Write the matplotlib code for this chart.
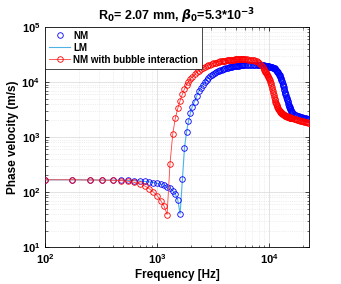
import numpy as np
import matplotlib
matplotlib.use("Agg")
import matplotlib.pyplot as plt

# frequency samples (Hz), same grid for all series
freq = [100, 175, 250, 325, 400, 475, 550, 625, 700, 775, 850, 925, 1000, 1075,
        1150, 1225, 1300, 1375, 1450, 1525, 1600, 1675, 1750, 1825, 1900, 1975, 2050,
        2150, 2250, 2350, 2450, 2550, 2650, 2750, 2850, 2950, 3050, 3150, 3250, 3350,
        3450, 3550, 3650, 3750, 3850, 3950, 4050, 4150, 4250, 4350, 4450, 4550, 4650,
        4750, 4850, 4950, 5050, 5150, 5250, 5350, 5450, 5550, 5650, 5750, 5850, 5950,
        6100, 6300, 6500, 6700, 6900, 7100, 7300, 7500, 7700, 7900, 8100, 8300, 8500,
        8700, 8900,
        9000, 9100, 9200, 9300, 9400, 9500, 9600, 9700, 9800, 9900,
        10000, 10100, 10200, 10300, 10400, 10500, 10600, 10700, 10800, 10900,
        11000, 11100, 11200, 11300, 11400, 11500, 11600, 11700, 11800, 11900,
        12000, 12100, 12200, 12300, 12400, 12500, 12600, 12700, 12800, 12900,
        13000, 13100, 13200, 13300, 13400, 13500, 13600, 13700, 13800, 13900,
        14000, 14100, 14200, 14300, 14400, 14500, 14600, 14700, 14800, 14900,
        15000, 15100, 15200, 15300, 15400, 15500, 15600, 15700, 15800, 15900,
        16000,
        16500, 16900, 17300, 17700, 18100, 18500, 18900, 19300, 19700, 20100, 20500,
        20900, 21300, 21700, 22100, 22500]

# NM phase velocity (m/s)
nm_vel = [167, 167, 166, 166, 165, 164, 163, 161, 159, 156, 153, 149, 144, 139,
          133, 126, 117, 106, 92, 72, 40, 170, 640, 1230, 1950, 2750, 3550,
          4400, 5600, 6800, 7900, 9000, 10000, 11000, 11900, 12700, 13400, 14000, 14600, 15100,
          15600, 16000, 16400, 16800, 17100, 17400, 17700, 18000, 18200, 18400, 18600, 18800, 19000,
          19200, 19300, 19500, 19600, 19700, 19800, 19900, 20000, 20100, 20150, 20200, 20250, 20300,
          20300, 20350, 20400, 20400, 20450, 20450, 20450, 20450, 20400, 20400, 20350, 20300, 20200,
          20100, 20000,
          19950, 19900, 19850, 19800, 19700, 19600, 19500, 19400, 19300, 19200,
          19100, 19000, 18900, 18800, 18700, 18600, 18450, 18300, 18150, 18000,
          17800, 17600, 17350, 17100, 16800, 16500, 16150, 15800, 15400, 15000,
          14550, 14100, 13650, 13200, 12750, 12300, 11800, 11300, 10800, 10300,
          9800, 9300, 8850, 8400, 7950, 7500, 7100, 6700, 6350, 6000,
          5700, 5400, 5150, 4900, 4650, 4450, 4250, 4050, 3850, 3700,
          3570, 3450, 3350, 3250, 3170, 3100, 3020, 2950, 2880, 2820,
          2760,
          2600, 2530, 2480, 2440, 2400, 2370, 2340, 2310, 2290, 2260, 2240,
          2210, 2190, 2160, 2140, 2120]

# LM follows NM
lm_vel = list(nm_vel)

# NM with bubble interaction (m/s)
nmb_vel = [167, 167, 166, 165, 164, 161, 157, 150, 141, 129, 115, 100, 86, 70,
           56, 39, 330, 1130, 2200, 3300, 4600, 6000, 7500, 8900, 10200, 11400, 12500,
           13800, 15000, 16100, 17100, 18000, 18800, 19500, 20200, 20800, 21300, 21800, 22200, 22600,
           23000, 23300, 23600, 23900, 24100, 24300, 24500, 24700, 24900, 25000, 25200, 25300, 25400,
           25500, 25600, 25700, 25750, 25800, 25850, 25900, 25900, 25950, 25950, 25950, 25900, 25900,
           25800, 25700, 25600, 25400, 25200, 24900, 24700, 24500, 24000, 23200, 22200, 21000, 19800,
           18500, 17200,
           16600, 16000, 15450, 14900, 14400, 13900, 13450, 13000, 12500, 12000,
           11400, 10800, 10150, 9500, 8800, 8100, 7500, 6900, 6400, 5900,
           5450, 5000, 4700, 4400, 4150, 3950, 3770, 3600, 3470, 3350,
           3250, 3150, 3070, 3000, 2940, 2880, 2830, 2780, 2740, 2700,
           2660, 2630, 2600, 2570, 2540, 2520, 2490, 2470, 2450, 2430,
           2410, 2400, 2380, 2370, 2350, 2340, 2320, 2310, 2300, 2290,
           2280, 2270, 2260, 2250, 2240, 2230, 2220, 2210, 2205, 2200,
           2195,
           2160, 2130, 2100, 2070, 2040, 2010, 1980, 1960, 1940, 1920, 1900,
           1880, 1860, 1840, 1820, 1800]

plt.rcParams['font.family'] = ['Liberation Sans', 'DejaVu Sans']
plt.rcParams['font.weight'] = 'bold'
plt.rcParams['axes.labelweight'] = 'bold'
plt.rcParams['axes.titleweight'] = 'bold'

fig = plt.figure(figsize=(3.41, 2.84), dpi=100)
ax = fig.add_axes([0.132, 0.130, 0.774, 0.775])

ax.plot(freq, nm_vel, linestyle='none', marker='o', markersize=4,
        markerfacecolor='none', markeredgecolor='#0000ff', markeredgewidth=0.6,
        label='NM', zorder=3)
ax.plot(freq, lm_vel, color='#4db3e6', linewidth=0.8, label='LM', zorder=2)
ax.plot(freq, nmb_vel, color='#ff4040', linewidth=0.6, marker='o', markersize=4,
        markerfacecolor='none', markeredgecolor='#ff0000', markeredgewidth=0.6,
        label='NM with bubble interaction', zorder=4)

ax.set_xscale('log')
ax.set_yscale('log')
ax.set_xlim(100, 22500)
ax.set_ylim(10, 1e5)

ax.grid(True, which='major', color='#d8d8d8', linestyle='-', linewidth=0.5)
ax.grid(True, which='minor', color='#e0e0e0', linestyle=':', linewidth=0.5)
ax.set_axisbelow(True)
ax.tick_params(which='both', direction='in', top=True, right=True, labelsize=8)
ax.tick_params(which='major', length=3, width=0.5)
ax.tick_params(which='minor', length=1.8, width=0.4)
for s in ax.spines.values():
    s.set_linewidth(0.6)

ax.set_xlabel('Frequency [Hz]', fontsize=8.5, labelpad=2)
ax.set_ylabel('Phase velocity (m/s)', fontsize=8.5, labelpad=2)
ax.set_title(r'R$_{\mathbf{0}}$= 2.07 mm, $\beta_{\mathbf{0}}$=5.3*10$^{\mathbf{-3}}$',
             fontsize=9, pad=5)

leg = ax.legend(loc='upper left', fontsize=7, fancybox=False, framealpha=1,
                edgecolor='black', borderaxespad=0, handlelength=2.2,
                handletextpad=0.3, borderpad=0.4, labelspacing=0.2)
leg.get_frame().set_linewidth(0.5)

fig.savefig('out.png', dpi=100)
